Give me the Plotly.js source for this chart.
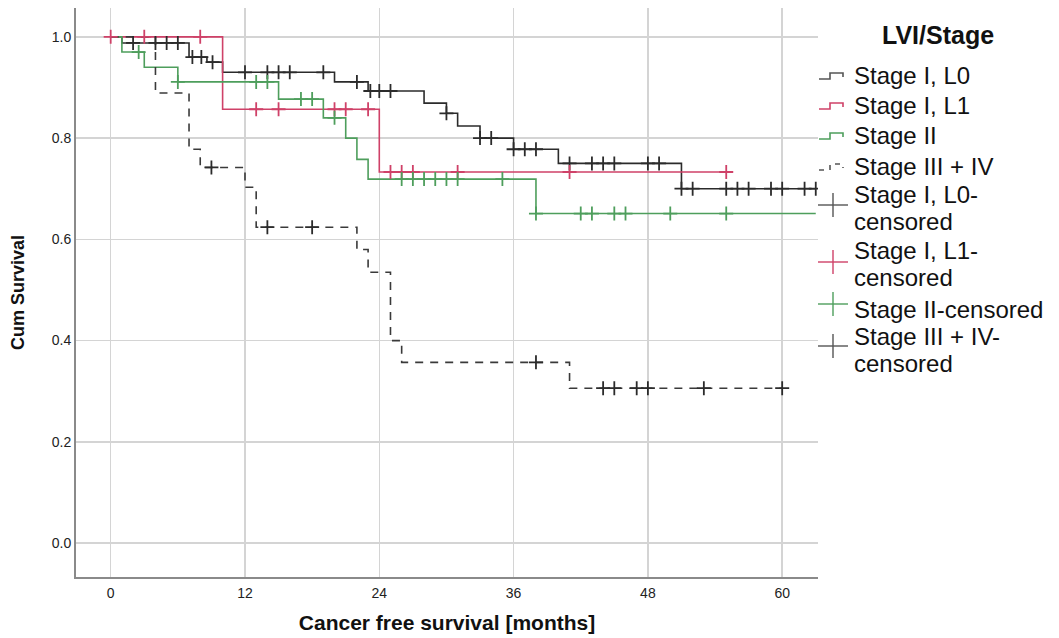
<!DOCTYPE html>
<html>
<head>
<meta charset="utf-8">
<script src="https://cdn.plot.ly/plotly-3.0.1.min.js"></script>
<style>html,body{margin:0;padding:0;background:#fff;}#chart{width:1059px;height:638px;}</style>
</head>
<body>
<div id="chart"></div>
<script>
// ---- Data ----
// Stage I, L0
var l0Time = [0, 1, 7, 8.6, 10, 20, 23, 28, 30, 31, 33, 36, 40, 51, 63];
var l0Surv = [1.0, 0.988, 0.96, 0.95, 0.93, 0.911, 0.893, 0.869, 0.849, 0.824, 0.80, 0.778, 0.75, 0.70, 0.70];
var l0CensTime = [2, 4, 5, 6, 7.3, 8.1, 9.1, 12, 14, 15, 16, 19, 22, 23.2, 24, 25, 30, 33, 34, 36, 37, 38, 41, 43, 44, 45, 48, 49, 51, 52, 55, 56, 57, 59, 60, 62, 63];
var l0CensSurv = [0.988, 0.988, 0.988, 0.988, 0.96, 0.96, 0.95, 0.93, 0.93, 0.93, 0.93, 0.93, 0.911, 0.893, 0.893, 0.893, 0.849, 0.80, 0.80, 0.778, 0.778, 0.778, 0.75, 0.75, 0.75, 0.75, 0.75, 0.75, 0.70, 0.70, 0.70, 0.70, 0.70, 0.70, 0.70, 0.70, 0.70];
// Stage I, L1
var l1Time = [0, 10, 24, 55];
var l1Surv = [1.0, 0.857, 0.733, 0.733];
var l1CensTime = [0, 3, 8, 13, 15, 20, 21, 23, 25, 26, 27, 31, 41, 55];
var l1CensSurv = [1.0, 1.0, 1.0, 0.857, 0.857, 0.857, 0.857, 0.857, 0.733, 0.733, 0.733, 0.733, 0.733, 0.733];
// Stage II
var s2Time = [0, 1, 3, 6, 15, 19, 21, 22, 23, 38, 63];
var s2Surv = [1.0, 0.97, 0.94, 0.911, 0.877, 0.84, 0.80, 0.758, 0.719, 0.651, 0.651];
var s2CensTime = [2.5, 6, 13, 14, 17, 18, 20, 26, 27, 28, 29, 30, 31, 35, 38, 42, 43, 45, 46, 50, 55];
var s2CensSurv = [0.97, 0.911, 0.911, 0.911, 0.877, 0.877, 0.84, 0.719, 0.719, 0.719, 0.719, 0.719, 0.719, 0.719, 0.651, 0.651, 0.651, 0.651, 0.651, 0.651, 0.651];
// Stage III + IV
var s34Time = [0, 4, 7, 8, 12, 13, 22, 23, 25, 26, 41, 60];
var s34Surv = [1.0, 0.889, 0.778, 0.742, 0.703, 0.624, 0.58, 0.535, 0.40, 0.357, 0.306, 0.306];
var s34CensTime = [9, 14, 18, 38, 44, 45, 47, 48, 53, 60];
var s34CensSurv = [0.742, 0.624, 0.624, 0.357, 0.306, 0.306, 0.306, 0.306, 0.306, 0.306];

var xTicks = [0, 12, 24, 36, 48, 60];
var yTicks = [0.0, 0.2, 0.4, 0.6, 0.8, 1.0];
var yTickText = ['0.0', '0.2', '0.4', '0.6', '0.8', '1.0'];

var legendTitle = 'LVI/Stage';
var legendLabels = ['Stage I, L0', 'Stage I, L1', 'Stage II', 'Stage III + IV',
  ['Stage I, L0-', 'censored'], ['Stage I, L1-', 'censored'], 'Stage II-censored', ['Stage III + IV-', 'censored']];

// ---- Styles ----
var cBlack = '#2b2b2b', cRed = '#cf4168', cGreen = '#4e9e5c', cGray = '#555';
var W = 1059, H = 638, M = {l: 76, r: 241, t: 8, b: 61};
var PW = W - M.l - M.r, PH = H - M.t - M.b;
function px(x) { return (x - M.l) / PW; }
function py(y) { return (H - M.b - y) / PH; }

function stepTrace(x, y, color, dash) {
  return {x: x, y: y, type: 'scatter', mode: 'lines',
    line: {shape: 'hv', color: color, width: 1.6, dash: dash}, hoverinfo: 'x+y'};
}
function censTrace(x, y, color) {
  return {x: x, y: y, type: 'scatter', mode: 'markers',
    marker: {symbol: 'cross-thin-open', size: 10, color: color, line: {width: 1.8, color: color}}, hoverinfo: 'x+y'};
}

var traces = [
  stepTrace(l0Time, l0Surv, cBlack, 'solid'),
  stepTrace(l1Time, l1Surv, cRed, 'solid'),
  stepTrace(s2Time, s2Surv, cGreen, 'solid'),
  stepTrace(s34Time, s34Surv, '#3a3a3a', '8px,7px'),
  censTrace(l0CensTime, l0CensSurv, cBlack),
  censTrace(l1CensTime, l1CensSurv, cRed),
  censTrace(s2CensTime, s2CensSurv, cGreen),
  censTrace(s34CensTime, s34CensSurv, cBlack)
];

// ---- Custom legend (text as annotations, icons as paper shapes) ----
var legFont = {family: '"Liberation Sans", Arial, sans-serif', size: 24, color: '#111'};
var textX = 852;
var lineY = [[75], [105], [135], [166], [195, 222], [250, 277], [310], [337, 364]];
var annotations = [{
  xref: 'paper', yref: 'paper', x: px(938), y: py(35), xanchor: 'center', yanchor: 'middle',
  text: '<b>' + legendTitle + '</b>', showarrow: false,
  font: {family: '"Liberation Sans", Arial, sans-serif', size: 25, color: '#111'}
}];
legendLabels.forEach(function (lab, i) {
  var parts = Array.isArray(lab) ? lab : [lab];
  parts.forEach(function (t, j) {
    annotations.push({xref: 'paper', yref: 'paper', x: px(textX), y: py(lineY[i][j]),
      xanchor: 'left', yanchor: 'middle', text: t, showarrow: false, font: legFont});
  });
});
var shapes = [];
function stepIcon(yc, color, dash) {
  var p = 'M' + px(819) + ',' + py(yc + 4) + ' H' + px(830) + ' V' + py(yc - 2) + ' H' + px(843) + ' V' + py(yc + 2);
  shapes.push({type: 'path', xref: 'paper', yref: 'paper', path: p,
    line: {color: color, width: 1.6, dash: dash || 'solid'}});
}
stepIcon(75, cGray); stepIcon(105, cRed); stepIcon(135, cGreen); stepIcon(166, cGray, '5px,6px');
function crossIcon(yc, color) {
  shapes.push({type: 'line', xref: 'paper', yref: 'paper', x0: px(818), x1: px(848), y0: py(yc), y1: py(yc), line: {color: color, width: 1.4}});
  shapes.push({type: 'line', xref: 'paper', yref: 'paper', x0: px(833), x1: px(833), y0: py(yc - 12), y1: py(yc + 12), line: {color: color, width: 1.4}});
}
crossIcon(205, cGray); crossIcon(262, cRed); crossIcon(304, cGreen); crossIcon(346, cGray);

var tickFont = {family: '"Liberation Sans Narrow", "Liberation Sans", Arial, sans-serif', size: 14, color: '#222'};

var layout = {
  width: W, height: H, margin: M,
  paper_bgcolor: '#fff', plot_bgcolor: '#fff',
  font: {family: '"Liberation Sans", Arial, sans-serif', color: '#111'},
  showlegend: false,
  annotations: annotations, shapes: shapes,
  xaxis: {
    range: [-3.1, 63.2], tickvals: xTicks, ticktext: xTicks.map(String),
    showgrid: true, gridcolor: '#d4d4d4', gridwidth: 1.5,
    zeroline: false, showline: true, linecolor: '#8a8a8a', linewidth: 2,
    ticks: '', tickfont: tickFont, ticklabelstandoff: 2,
    title: {text: '<b>Cancer free survival [months]</b>', font: {size: 21, color: '#111'}, standoff: 16}
  },
  yaxis: {
    range: [-0.067, 1.057], tickvals: yTicks, ticktext: yTickText,
    showgrid: true, gridcolor: '#d4d4d4', gridwidth: 1.5,
    zeroline: false, showline: true, linecolor: '#8a8a8a', linewidth: 2,
    ticks: '', tickfont: tickFont,
    title: {text: '<b>Cum Survival</b>', font: {size: 18, color: '#111'}, standoff: 22}
  }
};

Plotly.newPlot('chart', traces, layout, {displayModeBar: false, staticPlot: true});
</script>
</body>
</html>
